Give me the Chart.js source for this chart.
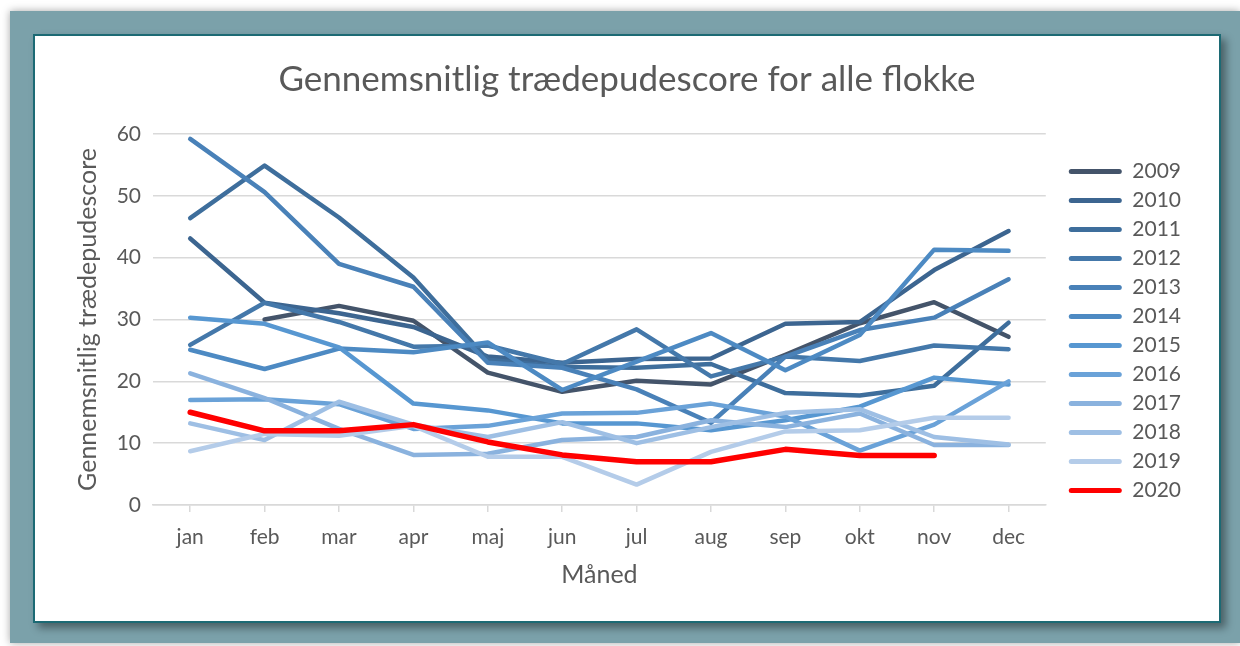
<!DOCTYPE html>
<html>
<head>
<meta charset="utf-8">
<title>Gennemsnitlig trædepudescore for alle flokke</title>
<script src="https://cdn.jsdelivr.net/npm/chart.js@4.4.1/dist/chart.umd.min.js"></script>
<style>
    html, body { margin:0; padding:0; width:1240px; height:646px; overflow:hidden; background:#ffffff; }
    .frame { position:absolute; left:10px; top:11px; width:1230px; height:632px; background:#7ba1aa; box-shadow:0 0 8px rgba(0,0,0,0.35); }
    .card { position:absolute; left:23px; top:23px; width:1184px; height:585px; background:#ffffff; border:2px solid #1c6a74; box-shadow:5px 5px 8px rgba(0,0,0,0.4); }
    canvas { display:block; }
</style>
</head>
<body>
<div class="frame">
    <div class="card">
        <canvas id="myChart" width="1184" height="585"></canvas>
    </div>
</div>
<script>
// data
var months = ["jan", "feb", "mar", "apr", "maj", "jun", "jul", "aug", "sep", "okt", "nov", "dec"];
var years = ["2009", "2010", "2011", "2012", "2013", "2014", "2015", "2016", "2017", "2018", "2019", "2020"];
var yTicks = [0, 10, 20, 30, 40, 50, 60];

var v2009 = [null, 30.0, 32.2, 29.8, 21.4, 18.3, 20.1, 19.5, 24.3, 29.4, 32.8, 27.2];
var v2010 = [43.1, 32.7, 31.0, 28.8, 24.0, 23.0, 23.6, 23.7, 29.3, 29.6, 38.0, 44.3];
var v2011 = [46.4, 54.9, 46.5, 36.8, 23.5, 22.3, 22.2, 22.8, 18.1, 17.7, 19.3, 29.5];
var v2012 = [25.9, 32.7, 29.6, 25.6, 25.8, 22.8, 28.4, 20.8, 24.0, 23.3, 25.8, 25.2];
var v2013 = [59.2, 50.6, 39.0, 35.3, 23.0, 22.2, 18.7, 13.3, 24.0, 28.3, 30.3, 36.5];
var v2014 = [25.1, 22.0, 25.3, 24.7, 26.3, 18.6, 23.2, 27.8, 21.8, 27.5, 41.3, 41.1];
var v2015 = [30.3, 29.3, 25.5, 16.4, 15.3, 13.2, 13.2, 12.1, 13.7, 15.9, 20.6, 19.5];
var v2016 = [17.0, 17.1, 16.3, 12.3, 12.8, 14.8, 14.9, 16.4, 14.3, 8.8, 13.0, 20.0];
var v2017 = [21.3, 17.3, 12.3, 8.1, 8.3, 10.5, 11.0, 13.7, 12.6, 14.8, 9.7, 9.7];
var v2018 = [13.2, 10.5, 16.7, 13.0, 11.0, 13.4, 10.0, 12.6, 14.9, 15.5, 11.0, 9.8];
var v2019 = [8.7, 11.5, 11.2, 12.8, 7.8, 7.8, 3.3, 8.6, 11.9, 12.1, 14.1, 14.1];
var v2020 = [15.0, 12.0, 12.0, 13.0, 10.2, 8.1, 7.0, 7.0, 9.0, 8.0, 8.0, null];

var seriesValues = [v2009, v2010, v2011, v2012, v2013, v2014, v2015, v2016, v2017, v2018, v2019, v2020];
var seriesColors = ["#44546a", "#3c6590", "#3e6e9c", "#4478aa", "#4981b8", "#4d8ac3",
                    "#5797d1", "#6aa2d8", "#8ab2de", "#9ebfe4", "#b4cce9", "#ff0000"];

var textColor = "#595959";
var gridColor = "#d9d9d9";
var fontName = "Lato, 'Liberation Sans', sans-serif";

function $each(arr, fn){
    for (var i = 0; i < arr.length; i++) { fn(i, arr[i]); }
}

var buildDatasets = function(){
    var arr = [];
    $each(seriesValues, function(ind, obj){
        var isRed = (ind === seriesValues.length - 1);
        arr.push({
            label: years[ind],
            data: obj,
            borderColor: seriesColors[ind],
            backgroundColor: seriesColors[ind],
            borderWidth: isRed ? 5.5 : 4.5,
            pointRadius: 0,
            pointHoverRadius: 0,
            tension: 0,
            fill: false,
            borderCapStyle: 'round',
            borderJoinStyle: 'round',
            // later years painted on top, like the original
            order: seriesValues.length - 1 - ind
        });
    });
    return arr;
};

// blank box that only takes up room on the right
var spacer = function(w, weight){
    return {
        position: 'right',
        display: true,
        weight: weight,
        grid: { display: false },
        border: { display: false },
        ticks: { display: false },
        afterFit: function(scale){ scale.width = w; }
    };
};

var ctx = document.getElementById('myChart');
var myChart = new Chart(ctx, {
    type: 'line',
    data: {
        labels: months,
        datasets: buildDatasets()
    },
    options: {
        responsive: false,
        animation: false,
        devicePixelRatio: 1,
        layout: {
            padding: 0
        },
        plugins: {
            title: {
                display: true,
                text: 'Gennemsnitlig trædepudescore for alle flokke',
                color: textColor,
                font: { family: fontName, size: 35, weight: 'normal', lineHeight: 1.2 },
                padding: { top: 23, bottom: 33 }
            },
            legend: {
                display: true,
                position: 'right',
                align: 'center',
                fullSize: true,
                // empty title, nudges the rows down a little
                title: {
                    display: true,
                    text: '',
                    font: { size: 5, lineHeight: 1 },
                    padding: 0
                },
                labels: {
                    color: textColor,
                    font: { family: fontName, size: 21 },
                    boxWidth: 53,
                    boxHeight: 5,
                    padding: 8,
                    useBorderRadius: true,
                    borderRadius: 2.5,
                    sort: function(a, b){ return a.datasetIndex - b.datasetIndex; },
                    generateLabels: function(chart){
                        var items = Chart.defaults.plugins.legend.labels.generateLabels(chart);
                        $each(items, function(ind, it){
                            it.lineWidth = 0;
                            it.fillStyle = it.strokeStyle;
                        });
                        return items;
                    }
                }
            },
            tooltip: { enabled: false }
        },
        scales: {
            x: {
                offset: true,
                grid: {
                    display: true,
                    drawOnChartArea: false,
                    drawTicks: true,
                    tickLength: 7,
                    color: gridColor,
                    lineWidth: 1.5
                },
                border: { display: true, color: gridColor, width: 1.5 },
                ticks: {
                    color: textColor,
                    font: { family: fontName, size: 21 },
                    padding: 13,
                    maxRotation: 0,
                    autoSkip: false
                },
                title: {
                    display: true,
                    text: 'Måned',
                    color: textColor,
                    font: { family: fontName, size: 25 },
                    padding: { top: 0, bottom: 31 }
                },
                afterFit: function(scale){ scale.height = 116; }
            },
            y: {
                min: yTicks[0],
                max: yTicks[yTicks.length - 1],
                afterBuildTicks: function(scale){
                    scale.ticks = yTicks.map(function(v){ return { value: v }; });
                },
                grid: {
                    color: gridColor,
                    lineWidth: 1.5,
                    drawTicks: false
                },
                border: { display: false },
                ticks: {
                    color: textColor,
                    font: { family: fontName, size: 21 },
                    padding: 12
                },
                title: {
                    display: true,
                    text: 'Gennemsnitlig trædepudescore',
                    color: textColor,
                    font: { family: fontName, size: 25 },
                    padding: { top: 38, bottom: 0 }
                },
                afterFit: function(scale){ scale.width = 118; }
            },
            gap: spacer(15, 0),
            edge: spacer(28, 2000)
        }
    }
});
</script>
</body>
</html>
